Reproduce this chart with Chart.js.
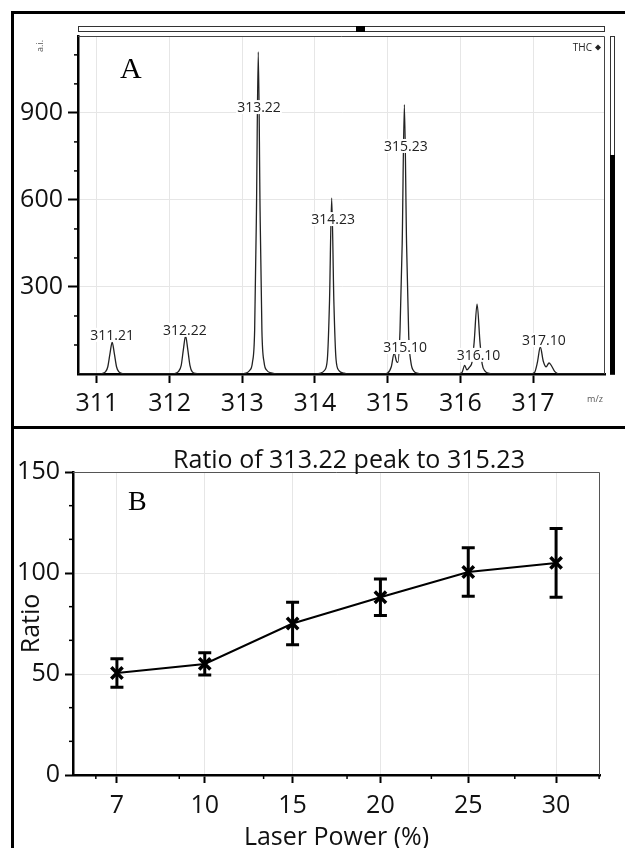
<!DOCTYPE html>
<html>
<head>
<meta charset="utf-8">
<title>THC spectrum and peak ratio</title>
<script src="https://cdn.jsdelivr.net/npm/chart.js@4.4.1/dist/chart.umd.min.js"></script>
<style>
    html, body { margin: 0; padding: 0; background: #fff; }
    #page { position: relative; width: 625px; height: 848px; overflow: hidden; }
    .frame {
        position: absolute; left: 11px; top: 11px; width: 700px; height: 900px;
        border-left: 3px solid #000; border-top: 3px solid #000;
    }
    .divider { position: absolute; left: 11px; top: 426px; width: 614px; height: 3px; background: #000; }
    #specCanvas { position: absolute; left: 0; top: 0; }
    #ratioCanvas { position: absolute; left: 0; top: 428px; }
</style>
</head>
<body>
<div id="page">
    <div class="frame"></div>
    <div class="divider"></div>
    <canvas id="specCanvas" width="625" height="426"></canvas>
    <canvas id="ratioCanvas" width="625" height="420"></canvas>
</div>
<script>
// ====== Data: panel A (mass spectrum profile) ======
const specMz = [
    310.74,
    311.02, 311.08, 311.12, 311.15, 311.18, 311.21, 311.24, 311.27, 311.30, 311.34, 311.40,
    312.02, 312.08, 312.12, 312.16, 312.19, 312.22, 312.25, 312.28, 312.31, 312.36, 312.42,
    312.98, 313.05, 313.10, 313.14, 313.17, 313.195, 313.22, 313.245, 313.27, 313.30, 313.34, 313.40, 313.48,
    314.00, 314.08, 314.13, 314.17, 314.20, 314.23, 314.26, 314.29, 314.33, 314.40, 314.48,
    314.95, 315.00, 315.05, 315.09, 315.12, 315.14, 315.17, 315.20, 315.23, 315.26, 315.29, 315.32, 315.36, 315.42, 315.48,
    315.95, 316.02, 316.06, 316.09, 316.13, 316.16, 316.19, 316.23, 316.27, 316.30, 316.34, 316.40, 316.46,
    316.96, 317.02, 317.06, 317.10, 317.14, 317.18, 317.22, 317.25, 317.30, 317.36,
    317.99
];
const specIntensity = [
    0,
    0, 2, 8, 25, 70, 110, 70, 25, 8, 2, 0,
    0, 2, 8, 30, 85, 131, 85, 30, 8, 2, 0,
    0, 3, 12, 40, 150, 560, 1110, 560, 150, 40, 12, 4, 0,
    0, 3, 12, 50, 250, 607, 250, 50, 12, 3, 0,
    0, 3, 25, 72, 45, 40, 150, 450, 928, 450, 130, 40, 10, 2, 0,
    0, 4, 30, 14, 25, 40, 110, 241, 110, 35, 10, 2, 0,
    0, 5, 40, 93, 45, 25, 38, 30, 8, 0,
    0
];
const specYTicks = [300, 600, 900];

// peak annotations: text, m/z where it is centred, intensity where it is centred
const peakText = ["311.21", "312.22", "313.22", "314.23", "315.10", "315.23", "316.10", "317.10"];
const peakLabelMz = [311.21, 312.21, 313.23, 314.25, 315.24, 315.25, 316.25, 317.15];
const peakLabelAt = [135, 152, 920, 534, 93, 786, 66, 117];

// ====== Data: panel B (ratio of 313.22 to 315.23 vs laser power) ======
const laserPower = ["7", "10", "15", "20", "25", "30"];
const ratioMean = [50.5, 55, 75, 88, 100.5, 105];
const ratioErr = [7, 5.5, 10.5, 9, 12, 17];

(() => {
    "use strict";

    // ====== Shared styling ======
    const SANS = "'Open Sans', 'Noto Sans', sans-serif";
    const SERIF = "'Liberation Serif', 'DejaVu Serif', serif";
    const GRID = "#e6e6e6";
    const tickFont = { family: SANS, size: 25 };

    Chart.defaults.font.family = SANS;
    Chart.defaults.color = "#111";

    // ====== Utilities ======
    function minorTicks(ctx, scale, values, len, vertical) {
        ctx.save();
        ctx.strokeStyle = "#000";
        ctx.lineWidth = 1.5;
        values.forEach((v) => {
            const p = scale.getPixelForValue(v);
            ctx.beginPath();
            if (vertical) {
                ctx.moveTo(scale.right, p);
                ctx.lineTo(scale.right - len, p);
            } else {
                ctx.moveTo(p, scale.top);
                ctx.lineTo(p, scale.top + len);
            }
            ctx.stroke();
        });
        ctx.restore();
    }

    // ====== Panel A plugin: peak labels and viewer decorations ======
    const spectrumDecor = {
        id: "spectrumDecor",
        afterDatasetsDraw(chart) {
            const { ctx, scales } = chart;
            ctx.save();
            ctx.font = `14px ${SANS}`;
            ctx.textAlign = "center";
            ctx.textBaseline = "middle";
            peakText.forEach((txt, i) => {
                const x = scales.x.getPixelForValue(peakLabelMz[i]);
                const y = scales.y.getPixelForValue(peakLabelAt[i]);
                const w = ctx.measureText(txt).width;
                ctx.fillStyle = "#fff";
                ctx.fillRect(x - w / 2 - 1, y - 7, w + 2, 14);
                ctx.fillStyle = "#222";
                ctx.fillText(txt, x, y + 1);
            });
            ctx.restore();
        },
        afterDraw(chart) {
            const { ctx, chartArea: a, scales } = chart;
            ctx.save();

            // plot frame (top/right)
            ctx.strokeStyle = "#444";
            ctx.lineWidth = 1;
            ctx.beginPath();
            ctx.moveTo(a.left, a.top + 0.5);
            ctx.lineTo(a.right - 0.5, a.top + 0.5);
            ctx.lineTo(a.right - 0.5, a.bottom);
            ctx.stroke();

            // scroll strip above the plot
            ctx.strokeStyle = "#333";
            ctx.strokeRect(a.left + 0.5, a.top - 9.5, a.right - a.left - 1, 5);
            ctx.fillStyle = "#000";
            ctx.fillRect(356, a.top - 10, 9, 6);

            // zoom bar at the right
            ctx.strokeRect(a.right + 5.5, a.top + 0.5, 4, a.bottom - a.top);
            ctx.fillRect(a.right + 5, a.top + (a.bottom - a.top) * 0.352, 5, (a.bottom - a.top) * 0.648);

            // minor y ticks
            minorTicks(ctx, scales.y, [100, 200, 400, 500, 700, 800, 1000, 1100], 4, true);

            // small viewer texts
            ctx.fillStyle = "#555";
            ctx.font = `9px ${SANS}`;
            ctx.textAlign = "center";
            ctx.textBaseline = "middle";
            ctx.fillText("m/z", 595, 399);
            ctx.save();
            ctx.translate(40, 46);
            ctx.rotate(-Math.PI / 2);
            ctx.fillText("a.i.", 0, 0);
            ctx.restore();

            ctx.fillStyle = "#222";
            ctx.font = `10px ${SANS}`;
            ctx.textAlign = "right";
            ctx.fillText("THC", 592, 48);
            ctx.beginPath();
            ctx.moveTo(598, 44.5);
            ctx.lineTo(601, 47.5);
            ctx.lineTo(598, 50.5);
            ctx.lineTo(595, 47.5);
            ctx.closePath();
            ctx.fill();

            // panel letter
            ctx.fillStyle = "#000";
            ctx.font = `30px ${SERIF}`;
            ctx.textAlign = "left";
            ctx.textBaseline = "alphabetic";
            ctx.fillText("A", 120, 78);
            ctx.restore();
        }
    };

    // ====== Panel B plugin: error bars, title, frame ======
    const ratioDecor = {
        id: "ratioDecor",
        beforeDatasetsDraw(chart) {
            const { ctx, scales } = chart;
            const meta = chart.getDatasetMeta(0);
            ctx.save();
            ctx.strokeStyle = "#000";
            ctx.lineWidth = 3;
            meta.data.forEach((pt, i) => {
                const top = scales.y.getPixelForValue(ratioMean[i] + ratioErr[i]);
                const bot = scales.y.getPixelForValue(ratioMean[i] - ratioErr[i]);
                ctx.beginPath();
                ctx.moveTo(pt.x, top);
                ctx.lineTo(pt.x, bot);
                ctx.moveTo(pt.x - 6.5, top);
                ctx.lineTo(pt.x + 6.5, top);
                ctx.moveTo(pt.x - 6.5, bot);
                ctx.lineTo(pt.x + 6.5, bot);
                ctx.stroke();
            });
            ctx.restore();
        },
        afterDraw(chart) {
            const { ctx, chartArea: a, scales } = chart;
            ctx.save();

            ctx.strokeStyle = "#555";
            ctx.lineWidth = 1;
            ctx.beginPath();
            ctx.moveTo(a.left, a.top + 0.5);
            ctx.lineTo(a.right - 0.5, a.top + 0.5);
            ctx.lineTo(a.right - 0.5, a.bottom);
            ctx.stroke();

            minorTicks(ctx, scales.y, [50 / 3, 100 / 3, 200 / 3, 250 / 3, 350 / 3, 400 / 3], 4, true);
            minorTicks(ctx, scales.x, [-0.24, 0.71, 1.67, 2.62, 3.58, 4.53, 5.49], 4, false);

            ctx.fillStyle = "#111";
            ctx.font = `25px ${SANS}`;
            ctx.textAlign = "center";
            ctx.textBaseline = "alphabetic";
            ctx.fillText("Ratio of 313.22 peak to 315.23", 349, 40);

            ctx.fillStyle = "#000";
            ctx.font = `28px ${SERIF}`;
            ctx.textAlign = "left";
            ctx.fillText("B", 128, 82);
            ctx.restore();
        }
    };

    // ====== Panel A chart ======
    new Chart(document.getElementById("specCanvas"), {
        type: "line",
        data: {
            datasets: [
                {
                    data: specMz.map((m, i) => ({ x: m, y: specIntensity[i] })),
                    borderColor: "#222",
                    borderWidth: 1.3,
                    pointRadius: 0,
                    cubicInterpolationMode: "monotone",
                    fill: false
                }
            ]
        },
        options: {
            responsive: false,
            animation: false,
            devicePixelRatio: 1,
            layout: { padding: { top: 36, right: 20, left: 0, bottom: 0 } },
            plugins: { legend: { display: false }, tooltip: { enabled: false } },
            scales: {
                x: {
                    type: "linear",
                    min: 310.74,
                    max: 317.99,
                    ticks: {
                        stepSize: 1,
                        includeBounds: false,
                        font: tickFont,
                        color: "#111",
                        padding: 6,
                        maxRotation: 0
                    },
                    grid: { color: GRID, tickLength: 9, tickColor: "#000", tickWidth: 2 },
                    border: { color: "#000", width: 2.5 },
                    afterFit: (s) => { s.height = 52; }
                },
                y: {
                    min: 0,
                    max: 1165,
                    ticks: { font: tickFont, color: "#111", padding: 5 },
                    afterBuildTicks: (s) => { s.ticks = specYTicks.map((v) => ({ value: v })); },
                    grid: { color: GRID, tickLength: 10, tickWidth: 2, tickColor: "#000" },
                    border: { color: "#000", width: 2.5 },
                    afterFit: (s) => { s.width = 78; }
                }
            }
        },
        plugins: [spectrumDecor]
    });

    // ====== Panel B chart ======
    new Chart(document.getElementById("ratioCanvas"), {
        type: "line",
        data: {
            labels: laserPower,
            datasets: [
                {
                    data: ratioMean,
                    borderColor: "#000",
                    borderWidth: 2,
                    pointStyle: "crossRot",
                    pointRadius: 8,
                    pointBorderWidth: 3.5,
                    pointBorderColor: "#000",
                    pointBackgroundColor: "#000",
                    tension: 0,
                    fill: false
                }
            ]
        },
        options: {
            responsive: false,
            animation: false,
            devicePixelRatio: 1,
            layout: { padding: { top: 44, right: 25, left: 0, bottom: 0 } },
            plugins: { legend: { display: false }, tooltip: { enabled: false } },
            scales: {
                x: {
                    type: "category",
                    offset: true,
                    ticks: { font: tickFont, color: "#111", padding: 8, maxRotation: 0 },
                    grid: { offset: false, color: GRID, tickLength: 8, tickColor: "#000", tickWidth: 2 },
                    border: { color: "#000", width: 2.5 },
                    title: {
                        display: true,
                        text: "Laser Power (%)",
                        font: { family: SANS, size: 25, lineHeight: 0.8 },
                        color: "#111",
                        padding: { top: 0, bottom: 0 }
                    },
                    afterFit: (s) => { s.height = 73; }
                },
                y: {
                    min: 0,
                    max: 150,
                    ticks: { stepSize: 50, font: tickFont, color: "#111", padding: 5 },
                    grid: { color: GRID, tickLength: 8, tickColor: "#000", tickWidth: 2 },
                    border: { color: "#000", width: 2.5 },
                    title: {
                        display: true,
                        text: "Ratio",
                        font: { family: SANS, size: 25, lineHeight: 1 },
                        color: "#111",
                        padding: { top: 19, bottom: 0 }
                    },
                    afterFit: (s) => { s.width = 73; }
                }
            }
        },
        plugins: [ratioDecor]
    });
})();
</script>
</body>
</html>
